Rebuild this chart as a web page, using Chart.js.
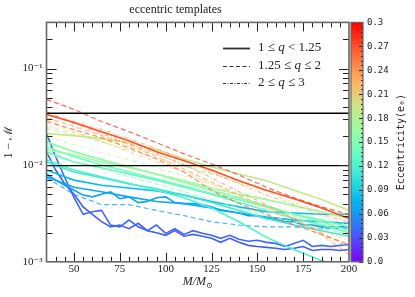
<!DOCTYPE html>
<html>
<head>
<meta charset="utf-8">
<script src="https://cdn.jsdelivr.net/npm/chart.js@4.4.0/dist/chart.umd.min.js"></script>
<style>
html, body { margin: 0; padding: 0; background: #fff; }
#wrap { width: 415px; height: 297px; }
</style>
</head>
<body>
<div id="wrap"><canvas id="c"></canvas></div>
<script>
// total masses M/Msun
const massCoarse = [35, 50, 65, 80, 95, 110, 125, 140, 155, 170, 185, 200];
const massFine = [35, 40, 45, 50, 55, 60, 65, 70, 75, 80, 85, 90, 95, 100, 105, 110, 115, 120,
    125, 130, 135, 140, 145, 150, 155, 160, 165, 170, 175, 180, 185, 190, 195, 200];

const xTickLabels = [50, 75, 100, 125, 150, 175, 200];
const yTickLabels = ['10⁻³', '10⁻²', '10⁻¹'];
const cbarTicks = [0.0, 0.03, 0.06, 0.09, 0.12, 0.15, 0.18, 0.21, 0.24, 0.27, 0.3];
const thresholds = [0.0345, 0.0099];
const legendLabels = ['1 ≤ q < 1.25', '1.25 ≤ q ≤ 2', '2 ≤ q ≤ 3'];

// mismatch 1 - M for each template
const s01 = [0.0479, 0.0377, 0.0283, 0.0222, 0.0171, 0.0131, 0.0103, 0.0079, 0.0059, 0.0046, 0.0037, 0.0031];
const s02 = [0.0334, 0.0276, 0.0222, 0.0179, 0.0138, 0.0111, 0.0089, 0.0069, 0.0055, 0.0045, 0.0036, 0.0028];
const s03 = [0.0283, 0.0233, 0.0192, 0.0151, 0.0116, 0.0085, 0.0055, 0.0040, 0.0031, 0.0024, 0.00192, 0.00151];
const s04 = [0.0342, 0.0283, 0.0233, 0.0188, 0.0148, 0.0114, 0.0085, 0.0064, 0.0049, 0.0039, 0.0031, 0.0026];
const s05 = [0.0311, 0.0251, 0.0202, 0.0163, 0.0122, 0.0091, 0.0067, 0.0049, 0.0037, 0.0028, 0.0020, 0.00141];
const s06 = [0.0359, 0.0269, 0.0212, 0.0167, 0.0131, 0.0101, 0.0074, 0.0053, 0.0039, 0.0028, 0.00192, 0.00119];
const s07 = [0.0296, 0.0222, 0.0175, 0.0138, 0.0108, 0.0085, 0.0064, 0.0047, 0.0035, 0.0027, 0.0021, 0.00167];
const s08 = [0.0212, 0.0202, 0.0188, 0.0171, 0.0144, 0.0116, 0.0096, 0.0081, 0.0069, 0.0055, 0.0044, 0.0034];
const s09 = [0.0239, 0.0207, 0.0175, 0.0144, 0.0119, 0.0098, 0.0081, 0.0067, 0.0055, 0.0046, 0.0037, 0.0030];
const s10 = [0.0197, 0.0163, 0.0134, 0.0114, 0.0094, 0.0077, 0.0064, 0.0053, 0.0045, 0.0037, 0.0030, 0.0024];
const s11 = [0.0167, 0.0138, 0.0116, 0.0096, 0.0079, 0.0065, 0.0054, 0.0045, 0.0037, 0.0030, 0.0025, 0.0020];
const s12 = [0.0251, 0.0217, 0.0183, 0.0155, 0.0128, 0.0103, 0.0083, 0.0065, 0.0053, 0.0041, 0.0033, 0.0026];
const s13 = [0.0144, 0.0128, 0.0108, 0.0094, 0.0081, 0.0069, 0.0058, 0.0050, 0.0044, 0.0038, 0.0033, 0.0028];
const s14 = [0.0131, 0.0108, 0.0091, 0.0076, 0.0064, 0.0053, 0.0044, 0.0036, 0.0030, 0.0026, 0.0022, 0.00192];
const s15 = [0.0155, 0.0122, 0.0101, 0.0085, 0.0072, 0.0061, 0.0051, 0.0044, 0.0037, 0.0031, 0.0027, 0.0023];
const s16 = [0.0114, 0.0089, 0.0076, 0.0065, 0.0055, 0.0046, 0.0036, 0.0026, 0.00179, 0.00134, 0.00103, 0.00081];
const s17 = [0.0138, 0.0108, 0.0094, 0.0081, 0.0070, 0.0059, 0.0050, 0.0041, 0.0034, 0.0028, 0.0024, 0.0020];
const s18 = [0.0175, 0.0138, 0.0114, 0.0096, 0.0081, 0.0067, 0.0055, 0.0046, 0.0038, 0.0031, 0.0026, 0.0021];
const s19 = [0.0108, 0.0085, 0.0074, 0.0064, 0.0057, 0.0049, 0.0041, 0.0034, 0.0028, 0.0024, 0.0021, 0.00184];
const s20 = [0.0089, 0.0070, 0.0062, 0.0058, 0.0054, 0.0049, 0.0042, 0.0037, 0.0033, 0.0032, 0.0031, 0.0031];
const s21 = [0.0076, 0.0059, 0.0053, 0.0047, 0.0042, 0.0040, 0.0036, 0.0032, 0.0029, 0.0027, 0.0026, 0.0025];
const s22 = [0.0074, 0.0050, 0.0039, 0.0039, 0.0034, 0.0030, 0.0026, 0.0024, 0.0023, 0.0023, 0.0022, 0.0022];
// jagged low eccentricity runs, sampled every 5 Msun
const s23 = [0.0081, 0.0070, 0.0062, 0.0055, 0.0049, 0.0047, 0.0050, 0.0053, 0.0045, 0.0047, 0.0041, 0.0042,
    0.0046, 0.0047, 0.0041, 0.0040, 0.0040, 0.0039, 0.0037, 0.0034, 0.0033, 0.0032, 0.0030, 0.0030,
    0.0028, 0.0027, 0.0026, 0.0026, 0.0024, 0.0024, 0.0023, 0.0023, 0.0023, 0.0023];
const s24 = [0.0212, 0.0122, 0.0074, 0.0046, 0.0031, 0.0033, 0.0034, 0.0024, 0.0023, 0.0027, 0.0023, 0.0021,
    0.0024, 0.00197, 0.0022, 0.00192, 0.0021, 0.00197, 0.00188, 0.00175, 0.00188, 0.00171, 0.00163, 0.00167,
    0.00159, 0.00155, 0.00144, 0.00155, 0.00167, 0.00144, 0.00148, 0.00144, 0.00148, 0.00151];
const s25 = [0.0138, 0.0089, 0.0064, 0.0050, 0.0037, 0.0031, 0.0026, 0.0023, 0.0024, 0.0022, 0.0025, 0.0021,
    0.0020, 0.00188, 0.0021, 0.00184, 0.00192, 0.00184, 0.00175, 0.00159, 0.00175, 0.00159, 0.00148, 0.00144,
    0.00141, 0.00138, 0.00134, 0.00138, 0.00144, 0.00131, 0.00134, 0.00134, 0.00131, 0.00134];

// eccentricity and mass-ratio bin (0: 1-1.25, 1: 1.25-2, 2: 2-3) of each template
const series = [
    { e: 0.28, q: 1, mass: massCoarse, vals: s01 },
    { e: 0.27, q: 0, mass: massCoarse, vals: s02 },
    { e: 0.26, q: 1, mass: massCoarse, vals: s03 },
    { e: 0.24, q: 2, mass: massCoarse, vals: s04 },
    { e: 0.23, q: 1, mass: massCoarse, vals: s05 },
    { e: 0.25, q: 2, mass: massCoarse, vals: s06 },
    { e: 0.22, q: 2, mass: massCoarse, vals: s07 },
    { e: 0.19, q: 0, mass: massCoarse, vals: s08 },
    { e: 0.19, q: 1, mass: massCoarse, vals: s09 },
    { e: 0.18, q: 2, mass: massCoarse, vals: s10 },
    { e: 0.17, q: 1, mass: massCoarse, vals: s11 },
    { e: 0.20, q: 2, mass: massCoarse, vals: s12 },
    { e: 0.17, q: 0, mass: massCoarse, vals: s13 },
    { e: 0.16, q: 1, mass: massCoarse, vals: s14 },
    { e: 0.14, q: 0, mass: massCoarse, vals: s15 },
    { e: 0.12, q: 0, mass: massCoarse, vals: s16 },
    { e: 0.13, q: 0, mass: massCoarse, vals: s17 },
    { e: 0.15, q: 0, mass: massCoarse, vals: s18 },
    { e: 0.11, q: 0, mass: massCoarse, vals: s19 },
    { e: 0.08, q: 0, mass: massCoarse, vals: s20 },
    { e: 0.07, q: 0, mass: massCoarse, vals: s21 },
    { e: 0.06, q: 1, mass: massCoarse, vals: s22 },
    { e: 0.065, q: 0, mass: massFine, vals: s23 },
    { e: 0.04, q: 0, mass: massFine, vals: s24 },
    { e: 0.035, q: 0, mass: massFine, vals: s25 }
];

const eMax = 0.3;
const serif = '"Liberation Serif", "DejaVu Serif", serif';
const mono = '"DejaVu Sans Mono", "Liberation Mono", monospace';

// matplotlib "rainbow" colormap
function rainbow(t, a) {
    const r = Math.min(1, Math.abs(2 * t - 0.5));
    const g = Math.sin(Math.PI * t);
    const b = Math.cos(Math.PI * t / 2);
    return `rgba(${Math.round(r * 255)}, ${Math.round(g * 255)}, ${Math.round(b * 255)}, ${a})`;
}

const dashes = [[], [5, 3], [4, 2, 1, 2]];

const datasets = series.map(s => ({
    data: s.mass.map((m, i) => ({ x: m, y: s.vals[i] })),
    borderColor: rainbow(s.e / eMax, s.q === 0 ? 1 : (s.q === 1 ? 0.75 : 0.6)),
    borderWidth: s.q === 0 ? 1.6 : 1.2,
    borderDash: dashes[s.q],
    pointRadius: 0,
    tension: 0,
    fill: false
}));

thresholds.forEach(v => {
    datasets.unshift({
        data: [{ x: 35, y: v }, { x: 200, y: v }],
        borderColor: '#000',
        borderWidth: 1.4,
        pointRadius: 0,
        fill: false
    });
});

function sup(n) {
    return yTickLabels[n + 3];
}

const decorations = {
    id: 'decorations',
    afterDraw(chart) {
        const ctx = chart.ctx;
        const a = chart.chartArea;
        const xs = chart.scales.x;
        const ys = chart.scales.y;
        ctx.save();

        // inward ticks
        ctx.strokeStyle = '#222';
        ctx.lineWidth = 1;
        for (let m = 40; m < 200; m += 5) {
            const px = Math.round(xs.getPixelForValue(m)) + 0.5;
            const len = (m % 25 === 0) ? 9 : 5;
            ctx.beginPath();
            ctx.moveTo(px, a.bottom); ctx.lineTo(px, a.bottom - len);
            ctx.moveTo(px, a.top); ctx.lineTo(px, a.top + len);
            ctx.stroke();
        }
        for (let d = -3; d <= -1; d++) {
            for (let k = 1; k <= 9; k++) {
                const v = k * Math.pow(10, d);
                if (v <= 0.001 || v >= 0.3) continue;
                const py = Math.round(ys.getPixelForValue(v)) + 0.5;
                const len = k === 1 ? 10 : 6;
                ctx.beginPath();
                ctx.moveTo(a.left, py); ctx.lineTo(a.left + len, py);
                ctx.moveTo(a.right, py); ctx.lineTo(a.right - len, py);
                ctx.stroke();
            }
        }

        // frame
        ctx.strokeStyle = '#666';
        ctx.lineWidth = 1.6;
        ctx.strokeRect(a.left, a.top, a.right - a.left, a.bottom - a.top);

        // legend
        const lx0 = 223, lx1 = 250, tx = 258;
        const rows = [48, 66, 83];
        ctx.strokeStyle = '#333';
        ctx.fillStyle = '#222';
        ctx.textBaseline = 'middle';
        rows.forEach((y, i) => {
            ctx.lineWidth = i === 0 ? 1.8 : 1.1;
            ctx.setLineDash(i === 0 ? [] : (i === 1 ? [4, 2.5] : [3, 1.5, 1, 1.5]));
            ctx.beginPath();
            ctx.moveTo(lx0, y + 0.5); ctx.lineTo(lx1, y + 0.5);
            ctx.stroke();
            ctx.setLineDash([]);
            const parts = legendLabels[i].split('q');
            let x = tx;
            ctx.font = '13px ' + serif;
            ctx.fillText(parts[0], x, y);
            x += ctx.measureText(parts[0]).width;
            ctx.font = 'italic 13px ' + serif;
            ctx.fillText('q', x, y);
            x += ctx.measureText('q').width;
            ctx.font = '13px ' + serif;
            ctx.fillText(parts[1], x, y);
        });

        // colour bar
        const cx0 = 351, cw = 12;
        const cTop = a.top, cBot = a.bottom;
        const grad = ctx.createLinearGradient(0, cBot, 0, cTop);
        for (let i = 0; i <= 20; i++) grad.addColorStop(i / 20, rainbow(i / 20, 1));
        ctx.fillStyle = grad;
        ctx.fillRect(cx0, cTop, cw, cBot - cTop);
        const cy = v => cBot - (v / eMax) * (cBot - cTop);
        ctx.strokeStyle = '#222';
        ctx.lineWidth = 1;
        for (let i = 0; i <= 50; i++) {
            const v = i * 0.006;
            const py = Math.round(cy(v)) + 0.5;
            const len = i % 5 === 0 ? 4 : 2;
            ctx.beginPath();
            ctx.moveTo(cx0 + cw, py); ctx.lineTo(cx0 + cw - len, py);
            ctx.stroke();
        }
        ctx.strokeStyle = '#666';
        ctx.lineWidth = 1.2;
        ctx.strokeRect(cx0, cTop, cw, cBot - cTop);
        ctx.fillStyle = '#222';
        ctx.font = '9px ' + mono;
        ctx.textAlign = 'left';
        cbarTicks.forEach(v => {
            const lbl = (Math.round(v * 100) / 100).toString();
            ctx.fillText(v === 0 ? '0.0' : lbl, cx0 + cw + 4, cy(v));
        });
        ctx.save();
        ctx.translate(401, (cTop + cBot) / 2);
        ctx.rotate(-Math.PI / 2);
        ctx.textAlign = 'center';
        ctx.font = '10px ' + mono;
        ctx.fillText('Eccentricity(e₀)', 0, 0);
        ctx.restore();

        // x axis title
        const cxm = (a.left + a.right) / 2;
        ctx.font = 'italic 12px ' + serif;
        const w1 = ctx.measureText('M/M').width;
        ctx.font = '8px ' + serif;
        const w2 = ctx.measureText('⊙').width;
        let x = cxm - (w1 + w2) / 2;
        ctx.textAlign = 'left';
        ctx.font = 'italic 12px ' + serif;
        ctx.fillText('M/M', x, 282);
        ctx.font = '8px ' + serif;
        ctx.fillText('⊙', x + w1, 286);

        ctx.restore();
    }
};

new Chart(document.getElementById('c'), {
    type: 'line',
    data: { datasets: datasets },
    options: {
        responsive: true,
        maintainAspectRatio: false,
        animation: false,
        devicePixelRatio: 1,
        layout: { padding: { left: 2, right: 66, top: 0, bottom: 20 } },
        plugins: {
            legend: { display: false },
            tooltip: { enabled: false },
            title: {
                display: true,
                text: 'eccentric templates',
                color: '#222',
                font: { family: serif, size: 12, weight: 'normal' },
                padding: { top: 3, bottom: 5 }
            }
        },
        scales: {
            x: {
                type: 'linear',
                min: 35,
                max: 200,
                grid: { display: false, drawTicks: false },
                border: { display: false },
                ticks: {
                    stepSize: 25,
                    includeBounds: false,
                    maxRotation: 0,
                    padding: 1,
                    color: '#222',
                    font: { family: serif, size: 11 },
                    callback: v => xTickLabels.includes(v) ? String(v) : ''
                }
            },
            y: {
                type: 'logarithmic',
                min: 0.001,
                max: 0.3,
                grid: { display: false, drawTicks: false },
                border: { display: false },
                title: {
                    display: true,
                    text: '1 − ℳ',
                    color: '#222',
                    font: { family: serif, size: 12 },
                    padding: { top: 0, bottom: 2 }
                },
                ticks: {
                    autoSkip: false,
                    padding: 4,
                    color: '#222',
                    font: { family: serif, size: 11 },
                    callback: v => {
                        const l = Math.log10(v);
                        return Math.abs(l - Math.round(l)) < 1e-6 ? sup(Math.round(l)) : '';
                    }
                }
            }
        }
    },
    plugins: [decorations]
});
</script>
</body>
</html>
